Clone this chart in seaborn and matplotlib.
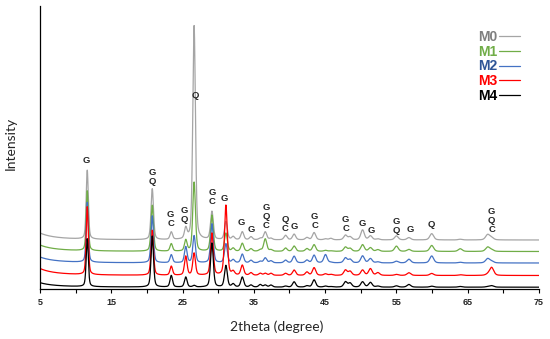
import numpy as np
import pandas as pd
import matplotlib
matplotlib.use("Agg")
import matplotlib.pyplot as plt
import seaborn as sns

# samples, stacked offset baselines and the low-angle background rise (read at 2theta = 5)
samples = ["M0", "M1", "M2", "M3", "M4"]
line_colors = ["#A5A5A5", "#70AD47", "#4472C4", "#FF0000", "#000000"]
text_colors = ["#7F7F7F", "#70AD47", "#2F5597", "#FF0000", "#000000"]
baseline = [49, 37.5, 26, 13.5, 1.8]
rise_at_5 = [7, 6.5, 6, 7, 4.5]

# peak positions (2theta) and peak heights above each baseline
peak_pos = [11.63, 20.75, 23.42, 25.45, 26.62, 29.12, 31.08, 32.1, 33.38, 34.6,
            35.9, 36.6, 37.4, 39.45, 40.65, 42.45, 43.45, 45.05, 45.8, 47.85,
            48.5, 50.25, 51.35, 52.4, 55.0, 56.75, 59.95, 63.95, 67.8, 68.35]
h_m0 = [69, 51, 7.5, 10.5, 214, 28, 18, 3, 8, 3,
        1.5, 8, 1.5, 4.5, 5.7, 2.3, 7.3, 1, 1.5, 4.7,
        3, 10, 4, 1, 4, 2.3, 6.3, 0.7, 5.3, 2]
h_m1 = [60, 46, 7.5, 11, 69, 36, 18, 3, 8, 2.5,
        1.5, 12.5, 1.5, 3.3, 5.3, 2.7, 6.7, 1, 0.5, 4.3,
        3, 6.7, 3.7, 1.7, 5.3, 2, 6, 2.7, 4.3, 1.5]
h_m2 = [60, 47, 8, 16, 27, 39, 19, 3, 8.7, 2.5,
        1.5, 5, 2, 2.7, 6.7, 2.7, 7.7, 8.3, 0.5, 5,
        3.5, 7, 4.3, 1, 1.7, 3.7, 7, 0.7, 4.3, 1.5]
h_m3 = [68, 45, 9, 19, 22, 42, 70, 3.5, 10, 2.5,
        2, 2, 2, 2, 5.3, 3.3, 7.7, 1.5, 1, 5.3,
        4, 5.3, 6.7, 2.7, 1, 2.7, 2, 0.7, 1, 8]
h_m4 = [48, 51, 11.5, 10, 1.5, 44, 21.5, 3, 10, 2,
        2.5, 2, 2, 1, 5.3, 1.3, 7.3, 1, 0.5, 5.3,
        4, 5.3, 4.7, 1, 1.3, 2.7, 1, 0.7, 0.5, 1.5]
heights = [h_m0, h_m1, h_m2, h_m3, h_m4]

# phase labels over the peaks
label_text = ["G", "G\nQ", "G\nC", "G\nQ", "Q", "G\nC", "G", "G", "G", "G\nQ\nC",
              "Q\nC", "G", "G\nC", "G\nC", "G", "G", "G\nQ", "G", "Q", "G\nQ\nC"]
label_pos = [11.45, 20.7, 23.35, 25.2, 26.75, 29.2, 30.8, 33.2, 34.7, 36.7,
             39.4, 40.7, 43.55, 47.9, 50.15, 51.45, 54.95, 56.9, 59.95, 68.35]
label_y = [128.3, 112, 69.5, 73.7, 193.3, 91.5, 90, 66.3, 59, 72.5,
           65.3, 62.3, 67.5, 65, 65.7, 58.3, 63.3, 59, 64, 68]

tt = np.linspace(5, 75, 3501)


def pattern(base, rise, hts):
    y = base + rise * 3.25 / (1 + ((tt - 2.0) / 2.0) ** 2)
    for p, h in zip(peak_pos, hts):
        hw = 0.17 + 0.003 * (p - 10)  # peaks broaden a little at high angle
        d = ((tt - p) / hw) ** 2
        y = y + h * (0.6 * np.exp(-np.log(2) * d) + 0.4 / (1 + d))
    return y


frames = []
for s, b, r, h in zip(samples, baseline, rise_at_5, heights):
    frames.append(pd.DataFrame({"2theta": tt, "intensity": pattern(b, r, h), "sample": s}))
df = pd.concat(frames, ignore_index=True)

sns.set_style("ticks")
fig = plt.figure(figsize=(5.5, 3.39), dpi=100)
ax = fig.add_axes([0.0727, 0.1475, 0.9073, 0.8348])

sns.lineplot(data=df, x="2theta", y="intensity", hue="sample", hue_order=samples,
             palette=line_colors, estimator=None, sort=False, lw=0.9, ax=ax)

ax.set_xlim(5, 75)
ax.set_ylim(0, 283)
ax.set_yticks([])
ax.set_xticks(np.arange(5, 76, 10))
ax.set_xticks(np.arange(10, 71, 10), minor=True)
ax.tick_params(which="both", direction="out", length=3, width=0.8, color="black")
for lab in ax.get_xticklabels():
    lab.set_fontfamily("Liberation Sans")
    lab.set_fontweight("bold")
    lab.set_fontsize(6.5)
sns.despine(ax=ax)
for side in ["left", "bottom"]:
    ax.spines[side].set_color("black")
    ax.spines[side].set_linewidth(0.9)

ax.set_xlabel("2theta (degree)", fontfamily="Lato", fontsize=10)
ax.set_ylabel("Intensity", fontfamily="Lato", fontsize=10)
ax.xaxis.set_label_coords(0.474, -0.11)
ax.yaxis.label.set_va("center")
ax.yaxis.set_label_coords(-0.058, 0.516)

for t, x, y in zip(label_text, label_pos, label_y):
    ax.text(x, y, t, ha="center", va="center", fontsize=6.8, fontweight="bold",
            fontfamily="Liberation Sans", linespacing=1.0)

handles, labels = ax.get_legend_handles_labels()
leg = ax.legend(handles, labels, loc="upper right", bbox_to_anchor=(0.962, 0.915),
                frameon=False, markerfirst=False, handlelength=1.5, handletextpad=0.15,
                labelspacing=0.05, borderpad=0, borderaxespad=0,
                prop={"family": "Liberation Sans", "weight": "bold", "size": 10})
for txt, c in zip(leg.get_texts(), text_colors):
    txt.set_color(c)

fig.savefig("out.png", dpi=100)
